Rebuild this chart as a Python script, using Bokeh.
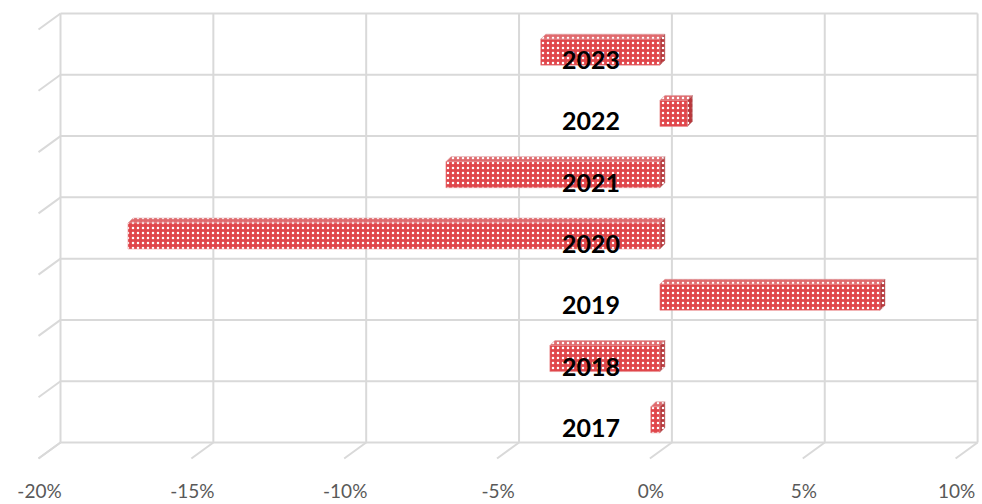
from bokeh.plotting import figure
from bokeh.models import Range1d, ColumnDataSource
from bokeh.embed import file_html
from bokeh.resources import INLINE
from bokeh.core.properties import value

# ---- data ----
years = ["2017", "2018", "2019", "2020", "2021", "2022", "2023"]
growth = [-0.3, -3.6, 7.2, -17.4, -7.0, 0.9, -3.9]          # percent
tick_values = [-20, -15, -10, -5, 0, 5, 10]
tick_labels = ["-20%", "-15%", "-10%", "-5%", "0%", "5%", "10%"]

# ---- geometry (pixel scale of the back wall) ----
PX_X = 30.57      # px per percent
PX_Y = 61.29      # px per category band
W, H = 982, 504
X0, X1 = -20 - 60 / PX_X, -20 + (W - 60) / PX_X
Y0, Y1 = -(H - 442) / PX_Y, 7 + 13 / PX_Y

def dx(px):
    return px / PX_X

def dy(px):
    return px / PX_Y

p = figure(width=W, height=H, x_range=Range1d(X0, X1), y_range=Range1d(Y0, Y1),
           output_backend="svg", toolbar_location=None, min_border=0,
           background_fill_color="white", border_fill_color="white")
p.axis.visible = False
p.grid.visible = False
p.outline_line_color = None

GRID = "#d9d9d9"
n = len(years)
# back wall verticals
p.segment(x0=tick_values, y0=[0] * len(tick_values), x1=tick_values, y1=[n] * len(tick_values),
          line_color=GRID, line_width=2)
# back wall horizontals
levels = list(range(n + 1))
p.segment(x0=[tick_values[0]] * len(levels), y0=levels, x1=[tick_values[-1]] * len(levels), y1=levels,
          line_color=GRID, line_width=2)
# floor diagonals
p.segment(x0=tick_values, y0=[0] * len(tick_values),
          x1=[t - dx(22) for t in tick_values], y1=[-dy(16)] * len(tick_values),
          line_color=GRID, line_width=2)
# side wall diagonals
p.segment(x0=[tick_values[0]] * len(levels), y0=levels,
          x1=[tick_values[0] - dx(22)] * len(levels), y1=[l - dy(16) for l in levels],
          line_color=GRID, line_width=2)

# ---- bars (pseudo 3D) ----
FX = -dx(12)          # front face shift
FY = -dy(8)
BH = dy(26)           # bar front height
DX3, DY3 = dx(5), dy(5)   # depth
front_l, front_r, front_b, front_t = [], [], [], []
top_xs, top_ys, side_xs, side_ys = [], [], [], []
for i, v in enumerate(growth):
    l = min(v, 0) + FX
    r = max(v, 0) + FX
    c = i + 0.5 + FY
    b, t = c - BH / 2, c + BH / 2
    front_l.append(l); front_r.append(r); front_b.append(b); front_t.append(t)
    top_xs.append([l, r, r + DX3, l + DX3])
    top_ys.append([t, t, t + DY3, t + DY3])
    side_xs.append([r, r + DX3, r + DX3, r])
    side_ys.append([b, b + DY3, t + DY3, t])

hatch = dict(hatch_pattern="dot", hatch_color="white", hatch_scale=5, hatch_weight=2.5)
p.patches(xs=top_xs, ys=top_ys, fill_color="#e06a6e", line_color="#d89a9c", line_width=0.5, **hatch)
p.patches(xs=side_xs, ys=side_ys, fill_color="#b8383c", line_color="#b87a7c", line_width=0.5, **hatch)
p.quad(left=front_l, right=front_r, bottom=front_b, top=front_t,
       fill_color="#e0464b", line_color="#e88a8d", line_width=0.5, **hatch)

# ---- labels ----
src = ColumnDataSource(dict(x=[0] * n, y=[i + 0.5 for i in range(n)], t=years))
p.text(x="x", y="y", text="t", source=src, x_offset=-81, y_offset=16,
       text_align="center", text_baseline="middle", text_color="black",
       text_font=value("Lato"), text_font_style="bold", text_font_size="25px")

tsrc = ColumnDataSource(dict(x=[t - dx(21) for t in tick_values], y=[-dy(48)] * len(tick_values), t=tick_labels))
p.text(x="x", y="y", text="t", source=tsrc, text_align="center", text_baseline="middle",
       text_color="#595959", text_font=value("Lato"), text_font_size="19px")

open("out.html", "w").write(file_html(p, INLINE))
